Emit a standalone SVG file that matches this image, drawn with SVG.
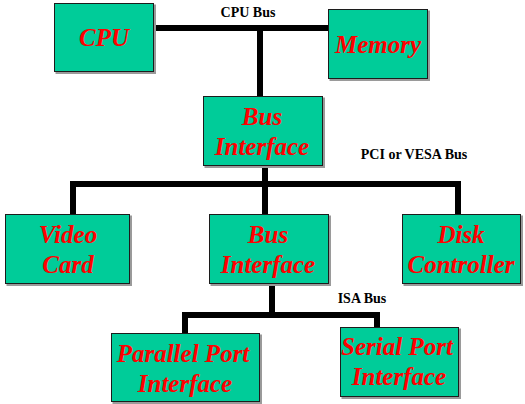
<svg xmlns="http://www.w3.org/2000/svg" width="525" height="404" viewBox="0 0 525 404">
  <defs>
    <!-- drop shadow behind each device box -->
    <filter id="drop" x="-5%" y="-5%" width="115%" height="115%">
      <feFlood flood-color="#9a9a9a"/>
      <feComposite in2="SourceAlpha" operator="in"/>
      <feOffset dx="1.5" dy="1.5"/>
      <feMerge><feMergeNode/><feMergeNode in="SourceGraphic"/></feMerge>
    </filter>
  </defs>
  <rect width="525" height="404" fill="#ffffff"/>

  <!-- bus connectors -->
  <g id="connectors" fill="none" stroke="#000000" stroke-width="6">
    <path d="M154 28 H328"/>
    <path d="M260 28 V96"/>
    <path d="M265 165 V184"/>
    <path d="M73 214 V184 H458 V214"/>
    <path d="M265 184 V214"/>
    <path d="M272 283 V315"/>
    <path d="M185 333 V315 H377 V327"/>
  </g>

  <!-- bus labels -->
  <g id="bus-labels" fill="#000000" text-anchor="middle">
    <text x="248" y="17" style="font-family:'Liberation Serif',serif;font-weight:bold;font-size:14px">CPU Bus</text>
    <text x="414" y="159" style="font-family:'Liberation Serif',serif;font-weight:bold;font-size:14px">PCI or VESA Bus</text>
    <text x="362" y="303" style="font-family:'Liberation Serif',serif;font-weight:bold;font-size:14px">ISA Bus</text>
  </g>

  <!-- device boxes -->
  <g id="devices" text-anchor="middle">
    <g id="cpu">
      <rect x="54.5" y="3.5" width="99" height="68" fill="#00CC99" stroke="#1a1a1a" filter="url(#drop)"/>
      <text x="104" y="46" fill="#FF0000" style="font-family:'Liberation Serif',serif;font-weight:bold;font-style:italic;font-size:25px">CPU</text>
    </g>

    <g id="memory">
      <rect x="328.5" y="9.5" width="99" height="69" fill="#00CC99" stroke="#1a1a1a" filter="url(#drop)"/>
      <text x="378" y="53" fill="#FF0000" style="font-family:'Liberation Serif',serif;font-weight:bold;font-style:italic;font-size:25px">Memory</text>
    </g>

    <g id="bus-interface-1">
      <rect x="203.5" y="96.5" width="119" height="69" fill="#00CC99" stroke="#1a1a1a" filter="url(#drop)"/>
      <text x="262" y="125" fill="#FF0000" style="font-family:'Liberation Serif',serif;font-weight:bold;font-style:italic;font-size:25px">Bus</text>
      <text x="262" y="155" fill="#FF0000" style="font-family:'Liberation Serif',serif;font-weight:bold;font-style:italic;font-size:25px">Interface</text>
    </g>

    <g id="video-card">
      <rect x="5.5" y="214.5" width="124" height="69" fill="#00CC99" stroke="#1a1a1a" filter="url(#drop)"/>
      <text x="68" y="243" fill="#FF0000" style="font-family:'Liberation Serif',serif;font-weight:bold;font-style:italic;font-size:25px">Video</text>
      <text x="68" y="273" fill="#FF0000" style="font-family:'Liberation Serif',serif;font-weight:bold;font-style:italic;font-size:25px">Card</text>
    </g>

    <g id="bus-interface-2">
      <rect x="209.5" y="214.5" width="119" height="69" fill="#00CC99" stroke="#1a1a1a" filter="url(#drop)"/>
      <text x="268" y="243" fill="#FF0000" style="font-family:'Liberation Serif',serif;font-weight:bold;font-style:italic;font-size:25px">Bus</text>
      <text x="268" y="273" fill="#FF0000" style="font-family:'Liberation Serif',serif;font-weight:bold;font-style:italic;font-size:25px">Interface</text>
    </g>

    <g id="disk-controller">
      <rect x="402.5" y="214.5" width="118" height="69" fill="#00CC99" stroke="#1a1a1a" filter="url(#drop)"/>
      <text x="461" y="243" fill="#FF0000" style="font-family:'Liberation Serif',serif;font-weight:bold;font-style:italic;font-size:25px">Disk</text>
      <text x="461" y="273" fill="#FF0000" style="font-family:'Liberation Serif',serif;font-weight:bold;font-style:italic;font-size:25px">Controller</text>
    </g>

    <g id="parallel-port">
      <rect x="111.5" y="333.5" width="148" height="68" fill="#00CC99" stroke="#1a1a1a" filter="url(#drop)"/>
      <text x="183" y="362" fill="#FF0000" style="font-family:'Liberation Serif',serif;font-weight:bold;font-style:italic;font-size:25px">Parallel Port</text>
      <text x="185" y="392" fill="#FF0000" style="font-family:'Liberation Serif',serif;font-weight:bold;font-style:italic;font-size:25px">Interface</text>
    </g>

    <g id="serial-port">
      <rect x="340.5" y="327.5" width="118" height="69" fill="#00CC99" stroke="#1a1a1a" filter="url(#drop)"/>
      <text x="397" y="355" fill="#FF0000" style="font-family:'Liberation Serif',serif;font-weight:bold;font-style:italic;font-size:25px">Serial Port</text>
      <text x="399" y="385" fill="#FF0000" style="font-family:'Liberation Serif',serif;font-weight:bold;font-style:italic;font-size:25px">Interface</text>
    </g>
  </g>
</svg>
